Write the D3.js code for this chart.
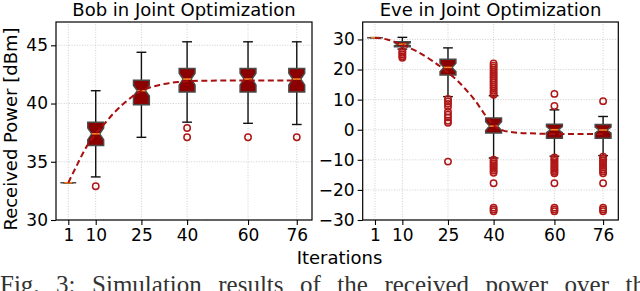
<!DOCTYPE html>
<html>
<head>
<meta charset="utf-8">
<script src="https://cdn.jsdelivr.net/npm/d3@7"></script>
<style>
  html, body { margin: 0; padding: 0; background: #fff; }
  svg { display: block; }
</style>
</head>
<body>
<svg id="chart" width="640" height="291"></svg>
<script>
// ---------------- data ----------------
const iterations = [1, 10, 25, 40, 60, 76];
const xTickLabels = ["1", "10", "25", "40", "60", "76"];

// Bob
const bobQ1 = [33.2, 36.4, 39.9, 41.0, 41.0, 41.0];
const bobMedian = [33.2, 37.4, 41.1, 42.1, 42.1, 42.1];
const bobQ3 = [33.2, 38.4, 42.0, 43.0, 43.0, 43.0];
const bobWhiskerLow = [33.2, 33.7, 37.1, 38.4, 38.3, 38.2];
const bobWhiskerHigh = [33.2, 41.1, 44.4, 45.3, 45.3, 45.3];
const bobNotch = [0, 0.5, 0.45, 0.5, 0.5, 0.5];
const bobOutliers = [[], [32.9], [], [37.9, 37.1], [37.1], [37.1]];
const bobFitX = [1, 4, 7, 10, 13, 16, 19, 22, 25, 28, 31, 34, 37, 40, 50, 60, 76];
const bobFitY = [33.2, 34.8, 36.3, 37.4, 38.3, 39.2, 39.95, 40.6, 41.1, 41.4, 41.6, 41.75, 41.85, 41.92, 41.97, 41.98, 41.98];
const bobTicks = [30, 35, 40, 45];

// Eve
const eveQ1 = [30.6, 27.6, 18.2, -1.1, -2.8, -2.8];
const eveMedian = [30.6, 28.4, 20.7, 1.2, 0.0, -0.1];
const eveQ3 = [30.6, 29.2, 23.4, 3.9, 1.8, 1.7];
const eveWhiskerLow = [30.6, 26.8, 11.0, -9.4, -8.8, -8.6];
const eveWhiskerHigh = [30.6, 30.7, 27.2, 11.3, 6.6, 4.4];
const eveNotch = [0, 0.5, 1.4, 1.5, 1.0, 1.0];
const eveOutliers = [
  [],
  [26.2, 25.6, 25.0, 24.4, 23.9],
  [10.2, 9.4, 8.6, 7.6, 6.0, 5.0, 4.1, 3.0, 2.3, -10.6],
  [22.0, 21.3, 20.6, 19.9, 19.2, 18.5, 17.8, 17.1, 16.4, 15.7, 15.0, 14.3, 13.6, 12.9, 12.2, 11.6,
   -10.0, -10.6, -11.2, -11.8, -12.4, -13.0, -13.6, -14.3, -17.8, -25.9, -26.5, -27.1],
  [11.9, 7.9, -9.2, -9.8, -10.4, -11.0, -11.6, -12.2, -12.8, -13.4, -14.0, -14.5, -17.8, -25.9, -26.5, -27.1],
  [9.5, -9.0, -9.6, -10.2, -10.8, -11.4, -12.0, -12.6, -13.2, -13.8, -14.5, -17.8, -25.9, -26.5, -27.1]
];
const eveFitX = [1, 5, 10, 15, 20, 25, 28, 31, 34, 37, 40, 43, 47, 52, 60, 76];
const eveFitY = [30.6, 30.0, 28.2, 25.9, 22.8, 19.0, 16.4, 13.2, 9.6, 5.2, 1.5, -0.2, -0.9, -1.2, -1.4, -1.4];
const eveTicks = [-30, -20, -10, 0, 10, 20, 30];

const titles = ["Bob in Joint Optimization", "Eve in Joint Optimization"];
const yLabel = "Received Power [dBm]";
const xLabel = "Iterations";
const caption = "Fig. 3: Simulation results of the received power over the";

// ---------------- drawing ----------------
const svg = d3.select("#chart");
const FONT = "DejaVu Sans, sans-serif";
const BOX_FILL = "#8b0000", BOX_EDGE = "#4a4a4a", MED = "#f5821f", FLIER = "#b01818", FIT = "#a80f0f";

function panel(cfg) {
  const x = d3.scaleLinear().domain([-3.04, 81]).range([cfg.left, cfg.right]);
  const y = d3.scaleLinear().domain(cfg.yDomain).range([220, 22]);
  const g = svg.append("g");

  g.append("g").selectAll("line").data(iterations).join("line")
    .attr("x1", d => x(d)).attr("x2", d => x(d)).attr("y1", y.range()[0]).attr("y2", y.range()[1])
    .attr("stroke", "#c8c8c8").attr("stroke-width", 0.9).attr("stroke-dasharray", "1,1.6");
  g.append("g").selectAll("line").data(cfg.ticks).join("line")
    .attr("x1", x.range()[0]).attr("x2", x.range()[1]).attr("y1", d => y(d)).attr("y2", d => y(d))
    .attr("stroke", "#c8c8c8").attr("stroke-width", 0.9).attr("stroke-dasharray", "1,1.6");

  const hw = 2.6, capHw = 1.6;
  const data = iterations.map((it, i) => ({
    it, q1: cfg.q1[i], q3: cfg.q3[i], med: cfg.med[i], lo: cfg.wlo[i], hi: cfg.whi[i],
    n: cfg.notch[i], out: cfg.out[i]
  }));

  const bx = g.append("g");
  data.forEach(d => {
    const c = d.it;
    bx.append("line").attr("x1", x(c)).attr("x2", x(c)).attr("y1", y(d.q3)).attr("y2", y(d.hi))
      .attr("stroke", "#111").attr("stroke-width", 1.4);
    bx.append("line").attr("x1", x(c)).attr("x2", x(c)).attr("y1", y(d.q1)).attr("y2", y(d.lo))
      .attr("stroke", "#111").attr("stroke-width", 1.4);
    [d.hi, d.lo].forEach(v => {
      bx.append("line").attr("x1", x(c - capHw)).attr("x2", x(c + capHw)).attr("y1", y(v)).attr("y2", y(v))
        .attr("stroke", "#111").attr("stroke-width", 1.4);
    });
    const pts = [
      [c - hw, d.q1], [c + hw, d.q1], [c + hw, d.med - d.n], [c + hw / 2, d.med], [c + hw, d.med + d.n],
      [c + hw, d.q3], [c - hw, d.q3], [c - hw, d.med + d.n], [c - hw / 2, d.med], [c - hw, d.med - d.n]
    ];
    bx.append("path").attr("d", d3.line().x(p => x(p[0])).y(p => y(p[1]))(pts) + "Z")
      .attr("fill", BOX_FILL).attr("stroke", BOX_EDGE).attr("stroke-width", 1.5)
      .attr("stroke-linejoin", "miter");
    bx.append("line").attr("x1", x(c - hw / 2)).attr("x2", x(c + hw / 2)).attr("y1", y(d.med)).attr("y2", y(d.med))
      .attr("stroke", MED).attr("stroke-width", 1.6);
  });

  g.append("path")
    .datum(cfg.fitX.map((v, i) => [v, cfg.fitY[i]]))
    .attr("d", d3.line().x(p => x(p[0])).y(p => y(p[1])).curve(d3.curveMonotoneX))
    .attr("fill", "none").attr("stroke", FIT).attr("stroke-width", 2).attr("stroke-dasharray", "6,3.5");

  data.forEach(d => {
    g.append("g").selectAll("circle").data(d.out).join("circle")
      .attr("cx", x(d.it)).attr("cy", v => y(v)).attr("r", 3.2)
      .attr("fill", "none").attr("stroke", FLIER).attr("stroke-width", 1.5);
  });

  g.append("rect").attr("x", cfg.left).attr("y", 22).attr("width", cfg.right - cfg.left).attr("height", 198)
    .attr("fill", "none").attr("stroke", "#000").attr("stroke-width", 1.2);

  const ax = g.append("g").attr("transform", `translate(${cfg.left},0)`)
    .call(d3.axisLeft(y).tickValues(cfg.ticks).tickSize(5).tickPadding(3));
  const bxAxis = g.append("g").attr("transform", "translate(0,220)")
    .call(d3.axisBottom(x).tickValues(iterations).tickFormat((d, i) => xTickLabels[i]).tickSize(5).tickPadding(4));
  [ax, bxAxis].forEach(a => {
    a.select(".domain").remove();
    a.selectAll("line").attr("stroke", "#000").attr("stroke-width", 1.1);
    a.selectAll("text").attr("font-family", FONT).attr("font-size", 17).attr("fill", "#000");
  });

  g.append("text").attr("x", (cfg.left + cfg.right) / 2).attr("y", 15.5).attr("text-anchor", "middle")
    .attr("font-family", FONT).attr("font-size", 18).text(cfg.title);
}

panel({
  left: 56, right: 312, yDomain: [30, 47], ticks: bobTicks, title: titles[0],
  q1: bobQ1, q3: bobQ3, med: bobMedian, wlo: bobWhiskerLow, whi: bobWhiskerHigh, notch: bobNotch, out: bobOutliers,
  fitX: bobFitX, fitY: bobFitY
});
panel({
  left: 362.7, right: 618.3, yDomain: [-30, 35.8], ticks: eveTicks, title: titles[1],
  q1: eveQ1, q3: eveQ3, med: eveMedian, wlo: eveWhiskerLow, whi: eveWhiskerHigh, notch: eveNotch, out: eveOutliers,
  fitX: eveFitX, fitY: eveFitY
});

svg.append("text").attr("transform", "translate(17,129) rotate(-90)").attr("text-anchor", "middle")
  .attr("font-family", FONT).attr("font-size", 18).text(yLabel);
svg.append("text").attr("x", 339.5).attr("y", 264).attr("text-anchor", "middle")
  .attr("font-family", FONT).attr("font-size", 18).text(xLabel);

// caption (justified line, cut off at the bottom as in the source figure)
const cap = svg.append("text").attr("x", 0).attr("y", 293)
  .attr("font-family", "Liberation Serif, Times New Roman, serif").attr("font-size", 25).attr("fill", "#333")
  .text(caption);
const natural = cap.node().getComputedTextLength();
const gaps = caption.split(" ").length - 1;
cap.attr("word-spacing", Math.max(0, (656 - natural) / gaps));
</script>
</body>
</html>
